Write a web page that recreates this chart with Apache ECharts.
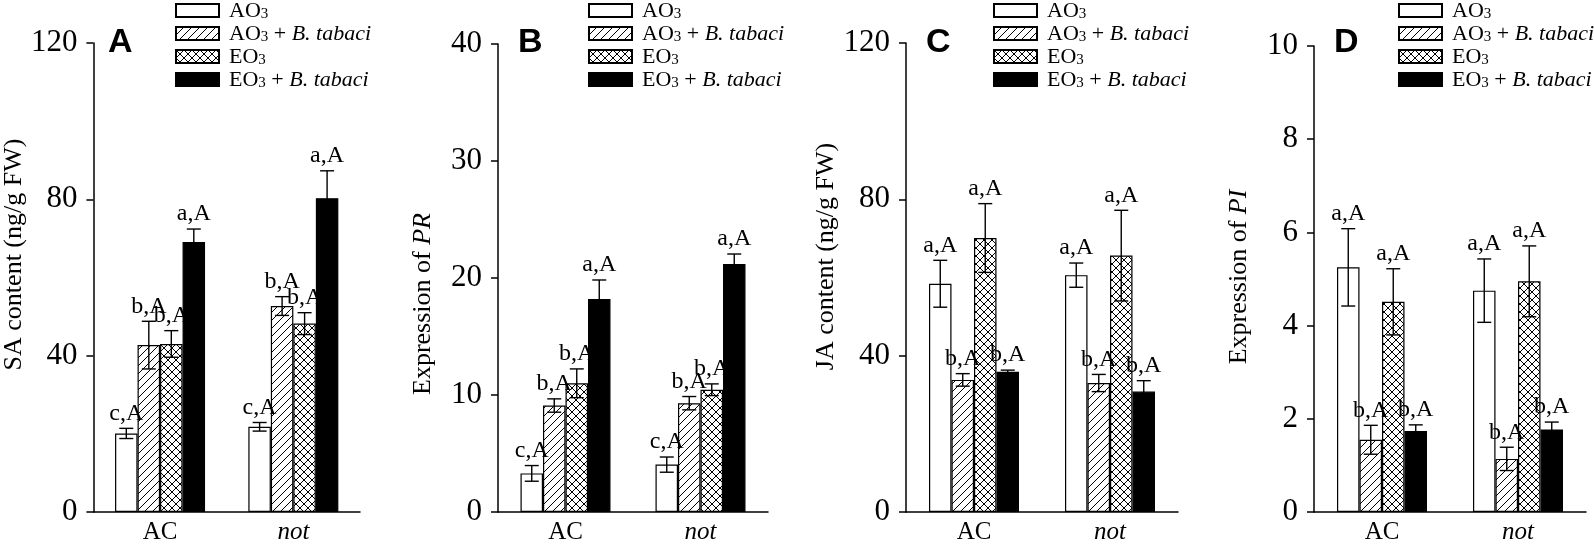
<!DOCTYPE html>
<html><head><meta charset="utf-8">
<script src="https://cdn.jsdelivr.net/npm/echarts@6/dist/echarts.min.js"></script>
<style>html,body{margin:0;padding:0;background:#fff}#c{width:1594px;height:545px}</style>
</head><body><div id="c"></div>
<script>
// ---------- DATA ----------
const categories = ['AC', 'not'];
const seriesNames = ['AO3', 'AO3 + B. tabaci', 'EO3', 'EO3 + B. tabaci'];

// Panel A: SA content (ng/g FW)  [series][category]
const saMeans = [[20.1, 21.8], [42.7, 52.7], [43.0, 48.2], [69.1, 80.3]];
const saErrs = [[1.3, 1.1], [6.1, 2.4], [3.4, 2.8], [3.3, 7.0]];
const saLetters = [['c,A', 'c,A'], ['b,A', 'b,A'], ['b,A', 'b,A'], ['a,A', 'a,A']];

// Panel B: Expression of PR
const prMeans = [[3.3, 4.05], [9.1, 9.3], [11.0, 10.45], [18.2, 21.2]];
const prErrs = [[0.67, 0.65], [0.57, 0.57], [1.23, 0.5], [1.63, 0.85]];
const prLetters = [['c,A', 'c,A'], ['b,A', 'b,A'], ['b,A', 'b,A'], ['a,A', 'a,A']];

// Panel C: JA content (ng/g FW)
const jaMeans = [[58.4, 60.6], [33.8, 33.0], [70.1, 65.6], [35.9, 30.8]];
const jaErrs = [[6.0, 3.1], [1.6, 2.2], [8.8, 11.6], [0.4, 2.8]];
const jaLetters = [['a,A', 'a,A'], ['b,A', 'b,A'], ['a,A', 'a,A'], ['b,A', 'b,A']];

// Panel D: Expression of PI
const piMeans = [[5.25, 4.75], [1.55, 1.14], [4.51, 4.95], [1.74, 1.77]];
const piErrs = [[0.83, 0.68], [0.31, 0.25], [0.71, 0.76], [0.13, 0.16]];
const piLetters = [['a,A', 'a,A'], ['b,A', 'b,A'], ['a,A', 'a,A'], ['b,A', 'b,A']];

const panelLetters = ['A', 'B', 'C', 'D'];
const yNames = ['SA content (ng/g FW)', 'Expression of {i|PR}', 'JA content (ng/g FW)', 'Expression of {i|PI}'];
const yMax = [120, 40, 120, 10];
const yInterval = [40, 10, 40, 2];

// ---------- LAYOUT / STYLE ----------
const panels = [
  { means: saMeans, errs: saErrs, letters: saLetters },
  { means: prMeans, errs: prErrs, letters: prLetters },
  { means: jaMeans, errs: jaErrs, letters: jaLetters },
  { means: piMeans, errs: piErrs, letters: piLetters }
];
const gridLeft = [88, 498, 906, 1314];
const gridWidth = [272, 270, 272, 272];
const gridTop = [43, 44, 43, 46];
const gridBottomY = [517, 518, 518, 518];
const legendLeft = [175, 588, 993, 1398];
const namePadding = [[0, 0, 0, 46], [0, 52, 0, 0], [0, 0, 0, 42], [0, 0, 0, 4]];
const SERIF = '"Liberation Serif", "Times New Roman", serif';
const SANS = '"Liberation Sans", Arial, sans-serif';
const BAR_W = 22.5;

function makePattern(cross) {
  const s = 8, c = document.createElement('canvas');
  c.width = s; c.height = s;
  const g = c.getContext('2d');
  g.fillStyle = '#fff'; g.fillRect(0, 0, s, s);
  g.strokeStyle = '#000'; g.lineWidth = 1;
  g.beginPath();
  g.moveTo(-1, s + 1); g.lineTo(s + 1, -1);
  g.moveTo(-1, 1); g.lineTo(1, -1);
  g.moveTo(s - 1, s + 1); g.lineTo(s + 1, s - 1);
  if (cross) {
    g.moveTo(-1, -1); g.lineTo(s + 1, s + 1);
    g.moveTo(s - 1, -1); g.lineTo(s + 1, 1);
    g.moveTo(-1, s - 1); g.lineTo(1, s + 1);
  }
  g.stroke();
  return { image: c, repeat: 'repeat' };
}
const fills = ['#ffffff', makePattern(false), makePattern(true), '#000000'];

const legendText = {
  'AO3': '{g| }{n|AO}{s|3}',
  'AO3 + B. tabaci': '{g| }{n|AO}{s|3}{n| + }{i|B. tabaci}',
  'EO3': '{g| }{n|EO}{s|3}',
  'EO3 + B. tabaci': '{g| }{n|EO}{s|3}{n| + }{i|B. tabaci}'
};
const legendRich = {
  g: { width: 5 },
  n: { fontFamily: SERIF, fontSize: 22, color: '#000', verticalAlign: 'bottom', lineHeight: 23 },
  s: { fontFamily: SERIF, fontSize: 15, color: '#000', verticalAlign: 'bottom', lineHeight: 20 },
  i: { fontFamily: SERIF, fontSize: 22, fontStyle: 'italic', color: '#000', verticalAlign: 'bottom', lineHeight: 23 }
};

function errRender(k, letters) {
  return function (params, api) {
    const idx = api.value(0), m = api.value(1), e = api.value(2);
    const pt = api.coord([idx, m + e]);
    const pb = api.coord([idx, m - e]);
    const x = pt[0] + (k - 1.5) * BAR_W;
    const cw = 7;
    const st = { stroke: '#000', lineWidth: 1.4 };
    return {
      type: 'group',
      children: [
        { type: 'line', shape: { x1: x, y1: pt[1], x2: x, y2: pb[1] }, style: st },
        { type: 'line', shape: { x1: x - cw, y1: pt[1], x2: x + cw, y2: pt[1] }, style: st },
        { type: 'line', shape: { x1: x - cw, y1: pb[1], x2: x + cw, y2: pb[1] }, style: st },
        {
          type: 'text', x: x, y: pt[1] - 3,
          style: { text: letters[k][params.dataIndex], align: 'center', verticalAlign: 'bottom',
                   fontFamily: SERIF, fontSize: 24, fill: '#000' }
        }
      ]
    };
  };
}

const grid = [], xAxis = [], yAxis = [], series = [], legend = [], title = [];
panels.forEach((pd, p) => {
  grid.push({ left: gridLeft[p], top: gridTop[p], width: gridWidth[p], height: gridBottomY[p] - gridTop[p] });
  xAxis.push({
    type: 'category', gridIndex: p, data: categories,
    axisLine: { lineStyle: { color: '#000', width: 1.5 } },
    axisTick: { alignWithLabel: true, length: 7, lineStyle: { color: '#000', width: 1.5 } },
    axisLabel: {
      color: '#000', fontFamily: SERIF, fontSize: 25, margin: 8,
      formatter: v => v === 'not' ? '{i|not}' : v,
      rich: { i: { fontFamily: SERIF, fontSize: 25, fontStyle: 'italic', color: '#000' } }
    },
    splitLine: { show: false }
  });
  yAxis.push({
    type: 'value', gridIndex: p, min: 0, max: yMax[p], interval: yInterval[p],
    name: yNames[p], nameLocation: 'middle', nameGap: 62,
    nameTextStyle: {
      color: '#000', fontFamily: SERIF, fontSize: 26, padding: namePadding[p],
      rich: { i: { fontFamily: SERIF, fontSize: 26, fontStyle: 'italic', color: '#000' } }
    },
    axisLine: { show: true, lineStyle: { color: '#000', width: 1.5 } },
    axisTick: { show: true, length: 7, lineStyle: { color: '#000', width: 1.5 } },
    axisLabel: { color: '#000', fontFamily: SERIF, fontSize: 31, margin: 16 },
    splitLine: { show: false }
  });
  pd.means.forEach((vals, k) => {
    series.push({
      type: 'bar', name: seriesNames[k], xAxisIndex: p, yAxisIndex: p,
      data: vals, barWidth: BAR_W, barGap: '0%',
      itemStyle: { color: fills[k], borderColor: '#000', borderWidth: 1.2 },
      emphasis: { disabled: true }
    });
  });
  pd.means.forEach((vals, k) => {
    series.push({
      type: 'custom', xAxisIndex: p, yAxisIndex: p, z: 5,
      data: vals.map((v, i) => [i, v, pd.errs[k][i]]),
      encode: { x: 0, y: 1 },
      renderItem: errRender(k, pd.letters),
      silent: true
    });
  });
  legend.push({
    data: seriesNames, orient: 'vertical', left: legendLeft[p], top: -1, padding: 0,
    itemGap: 0, itemWidth: 43, itemHeight: 13, icon: 'rect', selectedMode: false,
    formatter: name => legendText[name],
    textStyle: { fontFamily: SERIF, fontSize: 22, color: '#000', lineHeight: 23, rich: legendRich }
  });
  title.push({
    text: panelLetters[p], left: gridLeft[p] + 20, top: 26, padding: 0,
    textStyle: { fontFamily: SANS, fontWeight: 'bold', fontSize: 34, color: '#000' }
  });
});

const chart = echarts.init(document.getElementById('c'), null, { renderer: 'canvas' });
chart.setOption({
  animation: false,
  backgroundColor: '#fff',
  title, grid, xAxis, yAxis, series, legend
});
</script>
</body></html>
